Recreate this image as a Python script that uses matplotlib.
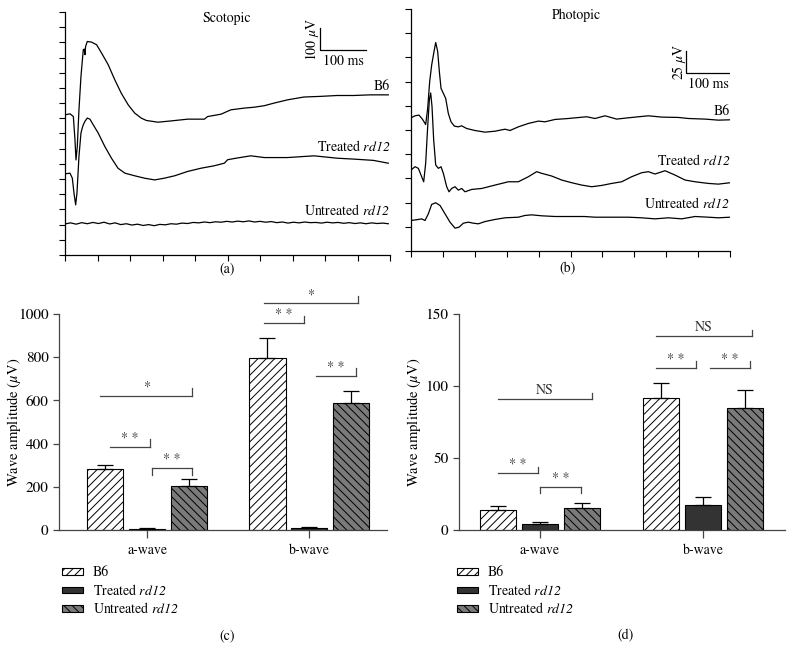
import matplotlib.pyplot as plt
import numpy as np

plt.rcParams['font.family'] = ['STIXGeneral', 'DejaVu Serif']
# math text is only used for italic bits (rd12, µ), so make every math glyph italic
plt.rcParams['mathtext.fontset'] = 'custom'
plt.rcParams['mathtext.rm'] = 'STIXGeneral:italic'
plt.rcParams['mathtext.it'] = 'STIXGeneral:italic'
plt.rcParams['mathtext.bf'] = 'STIXGeneral:bold'
plt.rcParams['hatch.linewidth'] = 0.7

# ── ERG traces, scotopic (ms, µV relative to each trace's baseline) ──────────
scot_b6_t = [0, 10.7, 17.9, 21.4, 23.6, 26.4, 30, 34.3, 39.3, 41.4, 42.9, 44.3, 47.9, 57, 68,
             78.6, 92.9, 107, 121, 136, 150, 164, 175, 200, 229, 264, 300, 307, 336, 357,
             386, 407, 429, 450, 479, 514, 550, 586, 621, 657, 696]
scot_b6_v = [0, 4.6, -7.7, -115, -208, -146, 23, 177, 300, 303, 277, 315, 338, 335, 323,
             285, 231, 162, 100, 46, 8, -15, -26, -34, -28, -20, -20, -8, 3, 23,
             31, 35, 42, 54, 69, 82, 85, 89, 89, 92, 92]
scot_tr_t = [0, 10.7, 15.7, 19.3, 22.9, 25.7, 30, 34.3, 37.1, 39.3, 42.9, 47.9, 53.6, 60.7,
             71.4, 85.7, 100, 114, 129, 150, 171, 193, 214, 236, 264, 293, 321, 343, 350,
             368, 400, 429, 479, 536, 586, 621, 664, 696]
scot_tr_v = [0, 3, -20, -89, -143, -89, 80, 188, 211, 226, 242, 257, 252, 226,
             188, 126, 72, 26, 3, -9, -20, -28, -20, -9, 11, 26, 37, 49, 65,
             72, 83, 75, 75, 83, 72, 68, 62, 49]
scot_un_t = [0, 12, 24, 36, 48, 60, 72, 84, 96, 108, 120, 132, 144, 156, 168, 180, 192, 204,
             216, 228, 240, 252, 264, 276, 288, 300, 312, 324, 336, 348, 360, 372, 384, 396,
             408, 420, 432, 444, 456, 468, 480, 492, 504, 516, 528, 540, 552, 564, 576, 588,
             600, 612, 624, 636, 648, 660, 672, 684, 696]
scot_un_v = [-3, 2, -4, 3, -2, 4, -1, 5, -3, 2, -6, -2, -8, -4, -10, -6, -11, -5,
             -7, -2, -4, 1, -1, 4, 2, 6, 3, 7, 5, 9, 6, 10, 7, 11,
             6, 9, 5, 8, 3, 6, 1, 5, 2, 6, 3, 4, 1, 5, 2, 4,
             0, 3, -1, 2, -2, 2, -1, 1, -2]
scot_offsets = [646, 374, 146]

# ── ERG traces, photopic ─────────────────────────────────────────────────────
phot_b6_t = [0, 9.1, 18.2, 25.8, 33.3, 37.9, 42.4, 47, 52.3, 56.1, 60.6, 64.4, 68.2, 73.5,
             78.8, 84.8, 90.9, 98.5, 107.6, 115, 126.5, 145.5, 168.2, 190.9, 213.6, 225,
             243.9, 266.7, 289.4, 304.5, 327.3, 357.6, 399.2, 418.2, 440.9, 467.4, 493.9,
             539.4, 569.7, 607.6, 630.3, 668.2, 698.5, 725]
phot_b6_v = [0, 2.3, 3.1, -1.5, -7.7, 10.8, 41.5, 60.8, 76.2, 86.5, 76.2, 53.1, 33.8, 28.1,
             22.3, 5, -4.6, -9.6, -10.4, -9.2, -12.3, -14.6, -16.5, -15.4, -13.1, -14.6,
             -10.4, -6.5, -3.8, -4.6, -1.9, -0.8, 1.2, -0.8, 2.3, -1.5, 0,
             2.3, 0.8, 0.4, -0.8, -1.5, -2.7, -2.3]
phot_tr_t = [0, 9.1, 16.7, 24.2, 28.8, 33.3, 37.9, 41.7, 44.7, 47.7, 51.5, 56.1, 62.1, 68.2,
             73.5, 81.1, 86.4, 92.4, 100, 107.6, 115.2, 122.7, 137.9, 160.6, 190.9, 221.2,
             243.9, 266.7, 285.6, 297, 319.7, 342.4, 365.2, 387.9, 410.6, 433.3, 456.1,
             478.8, 501.5, 524.2, 539.4, 554.5, 577.3, 600, 622.7, 645.5, 675.8, 698.5, 725]
phot_tr_v = [0, 3.8, 1.9, -7.7, -13.5, 7.7, 50, 80.8, 88.5, 73.1, 34.6, 5.8, 1.9, 3.8,
             -3.8, -19.2, -25, -21.2, -19.2, -23.1, -21.2, -25, -22.3, -21.2, -17.3, -13.5,
             -13.5, -7.7, -1.9, -3.8, -6.9, -11.5, -14.6, -17.3, -19.2, -17.7, -15.4,
             -13.5, -7.7, -3.1, -1.9, -4.6, -0.8, -5.8, -11.5, -13.5, -15.4, -16.2, -14.6]
phot_un_t = [0, 16.7, 24.2, 31.8, 39.4, 47, 56.1, 65.9, 77.3, 88.6, 100, 109.1, 118.9, 130.3,
             141.7, 153, 168.2, 190.9, 213.6, 243.9, 259.1, 274.2, 297, 327.3, 357.6, 393.9,
             418.2, 456.1, 493.9, 524.2, 554.5, 584.8, 615.2, 645.5, 675.8, 698.5, 725]
phot_un_v = [0, 1.2, 1.9, 0, 7.7, 18.5, 20.4, 17.3, 7.7, -1.9, -8.8, -7.7, -3.1, -1.9,
             -3.1, -3.8, -1.2, 1.2, 3.1, 3.8, 5.8, 6.5, 5.4, 4.6, 4.6, 4.6,
             3.8, 3.8, 3.8, 3.1, 1.9, 3.1, 1.9, 4.6, 3.8, 3.1, 3.8]
phot_offsets = [153, 93, 35]

# ── wave amplitudes (µV) ─────────────────────────────────────────────────────
groups = ['a-wave', 'b-wave']
series = ['B6', 'Treated $rd12$', 'Untreated $rd12$']
scot_b6 = [281, 796]
scot_b6_err = [20, 91]
scot_tr = [5, 8]
scot_tr_err = [3, 4]
scot_un = [204, 590]
scot_un_err = [31, 55]
phot_b6 = [13.9, 91.7]
phot_b6_err = [3.0, 10.3]
phot_tr = [3.9, 17.4]
phot_tr_err = [1.9, 5.7]
phot_un = [15.5, 85.0]
phot_un_err = [3.3, 12.0]

# significance brackets: x1, x2 (relative to group centre), group, height, label, style
scot_sig = [(-0.29, 0.28, 0, 622, '*', 'up'),
            (-0.23, 0.02, 0, 386, '* *', 'up'),
            (0.03, 0.28, 0, 289, '* *', 'down'),
            (-0.28, 0.30, 1, 1049, '*', 'up'),
            (-0.28, -0.03, 1, 957, '* *', 'up'),
            (0.04, 0.29, 1, 714, '* *', 'up')]
phot_sig = [(-0.26, 0.32, 0, 91.0, 'NS', 'up'),
            (-0.26, -0.01, 0, 39.4, '* *', 'up'),
            (0.0, 0.25, 0, 30.1, '* *', 'down'),
            (-0.29, 0.30, 1, 134.7, 'NS', 'up'),
            (-0.29, -0.04, 1, 112.7, '* *', 'up'),
            (0.04, 0.29, 1, 112.7, '* *', 'up')]

fig = plt.figure(figsize=(7.93, 6.47), dpi=100)
ax_a = fig.add_axes([0.082, 0.6059, 0.410, 0.3756])
ax_b = fig.add_axes([0.5183, 0.6121, 0.4023, 0.374])
ax_c = fig.add_axes([0.0744, 0.1808, 0.4136, 0.3339])
ax_d = fig.add_axes([0.5788, 0.1808, 0.4111, 0.3339])


def trace_axes(ax, xmax, ymax, nx, ny):
    ax.set_xlim(0, xmax)
    ax.set_ylim(0, ymax)
    ax.set_xticks(np.linspace(0, xmax, nx + 1))
    ax.set_yticks(np.linspace(0, ymax, ny + 1))
    ax.tick_params(labelbottom=False, labelleft=False, length=4, width=0.8,
                   direction='out')
    for s in ('top', 'right'):
        ax.spines[s].set_visible(False)
    for s in ('left', 'bottom'):
        ax.spines[s].set_linewidth(0.9)


def scale_bar(ax, x0, y0, dx, dy, ylab, xlab, ylab_x, xlab_y):
    ax.plot([x0, x0, x0 + dx], [y0 + dy, y0, y0], color='k', lw=0.9)
    ax.text(ylab_x, y0 + dy / 2, ylab, rotation=90, ha='center', va='center', fontsize=10)
    ax.text(x0 + dx / 2, xlab_y, xlab, ha='center', va='center', fontsize=10)


# ── (a) scotopic traces ──────────────────────────────────────────────────────
trace_axes(ax_a, 700, 1120, 10, 16)
for t, v, off in zip([scot_b6_t, scot_tr_t, scot_un_t],
                     [scot_b6_v, scot_tr_v, scot_un_v], scot_offsets):
    ax_a.plot(t, np.array(v) + off, color='k', lw=0.9)
ax_a.text(349, 1092, 'Scotopic', ha='center', va='center', fontsize=10)
for lab, y in zip(series, [779, 498, 203]):
    ax_a.text(700, y, lab, ha='right', va='center', fontsize=10)
scale_bar(ax_a, 549, 945, 100, 100, '100 $\\mu$V', '100 ms', 532, 894)

# ── (b) photopic traces ──────────────────────────────────────────────────────
trace_axes(ax_b, 725, 278, 10, 10)
for t, v, off in zip([phot_b6_t, phot_tr_t, phot_un_t],
                     [phot_b6_v, phot_tr_v, phot_un_v], phot_offsets):
    ax_b.plot(t, np.array(v) + off, color='k', lw=0.9)
ax_b.text(377, 271, 'Photopic', ha='center', va='center', fontsize=10)
for lab, y in zip(series, [160, 104.5, 54]):
    ax_b.text(725, y, lab, ha='right', va='center', fontsize=10)
scale_bar(ax_b, 625, 204.5, 100, 25, '25 $\\mu$V', '100 ms', 609, 191)


# ── (c), (d) bar charts ──────────────────────────────────────────────────────
def bar_panel(ax, vals, errs, sig, ymax, yticks, xlim, tick_h):
    x = np.arange(len(groups))
    offs = [-0.258, 0.0, 0.258]
    faces = ['white', '#333333', '#7a7a7a']
    hatches = ['////', None, '\\\\\\\\']
    handles = []
    for v, e, o, fc, h in zip(vals, errs, offs, faces, hatches):
        b = ax.bar(x + o, v, width=0.225, facecolor=fc, edgecolor='k', hatch=h,
                   linewidth=0.8, zorder=2)
        ax.errorbar(x + o, v, yerr=[np.zeros(len(v)), e], fmt='none', ecolor='k',
                    elinewidth=0.9, capsize=6, capthick=0.9, zorder=3)
        handles.append(b)
    for x1, x2, g, y, lab, style in sig:
        ax.plot([g + x1, g + x2], [y, y], color='#444444', lw=0.9, clip_on=False)
        if style == 'up':
            ax.plot([g + x2, g + x2], [y, y + tick_h], color='#444444', lw=0.9, clip_on=False)
        else:
            ax.plot([g + x1, g + x1], [y, y - tick_h], color='#444444', lw=0.9, clip_on=False)
            ax.plot([g + x2, g + x2], [y, y - tick_h], color='#444444', lw=0.9, clip_on=False)
        ax.annotate(lab, xy=((2 * g + x1 + x2) / 2, y), xytext=(0, 1.5),
                    textcoords='offset points', ha='center', va='bottom',
                    fontsize=10, color='#333333', annotation_clip=False)
    ax.set_xlim(*xlim)
    ax.set_ylim(0, ymax)
    ax.set_yticks(yticks)
    ax.set_xticks(x)
    ax.set_xticklabels(groups, fontsize=10)
    ax.tick_params(axis='y', labelsize=11, length=4, width=0.9, color='#444444',
                   direction='out')
    ax.tick_params(axis='x', labelsize=10, length=6, width=0.9, color='#444444',
                   direction='out')
    for s in ('top', 'right'):
        ax.spines[s].set_visible(False)
    for s in ('left', 'bottom'):
        ax.spines[s].set_color('#444444')
        ax.spines[s].set_linewidth(0.9)
    ax.set_ylabel('Wave amplitude ($\\mu$V)', fontsize=10.5)
    ax.yaxis.set_label_coords(-0.11, 0.5)
    return handles


h_c = bar_panel(ax_c, [scot_b6, scot_tr, scot_un], [scot_b6_err, scot_tr_err, scot_un_err],
                scot_sig, 1000, [0, 200, 400, 600, 800, 1000], (-0.543, 1.48), 34)
h_d = bar_panel(ax_d, [phot_b6, phot_tr, phot_un], [phot_b6_err, phot_tr_err, phot_un_err],
                phot_sig, 150, [0, 50, 100, 150], (-0.497, 1.503), 4.4)

for ax, hs, x0 in ((ax_c, h_c, 62), (ax_d, h_d, 457)):
    ax.legend(hs, series, loc='upper left', bbox_to_anchor=(x0 / 793, 1 - 566 / 647),
              bbox_transform=fig.transFigure, frameon=False, fontsize=10,
              handlelength=1.5, handleheight=0.35, labelspacing=0.25,
              borderaxespad=0, borderpad=0, handletextpad=0.7)

for lab, x, y in (('(a)', 227, 269), ('(b)', 568, 269), ('(c)', 227, 636), ('(d)', 625, 636)):
    fig.text(x / 793, 1 - y / 647, lab, ha='center', va='center', fontsize=10)

fig.savefig('out.png', dpi=100)
